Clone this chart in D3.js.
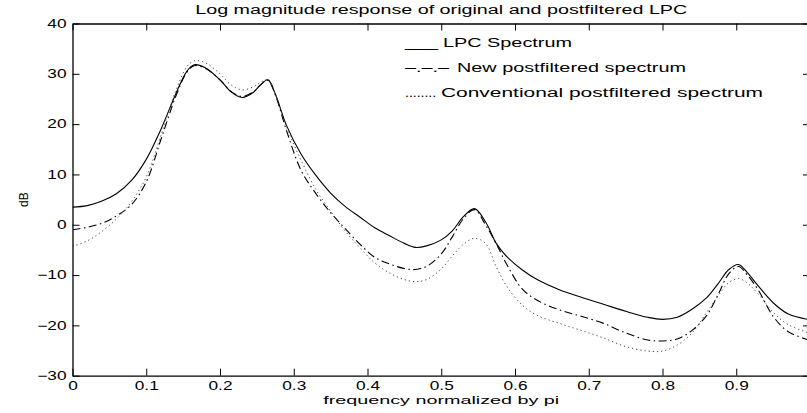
<!DOCTYPE html>
<html>
<head>
<meta charset="utf-8">
<script src="https://cdn.jsdelivr.net/npm/d3@7"></script>
<style>
  body { margin: 0; background: #fff; }
  svg { display: block; }
  text { font-family: "Liberation Sans", Arial, sans-serif; fill: #000; }
</style>
</head>
<body>
<div id="chart"></div>
<script>
// frequency grid (normalized by pi)
const freq = [0, 0.02, 0.04, 0.06, 0.08, 0.10, 0.12, 0.14, 0.155, 0.165, 0.18, 0.20, 0.215, 0.23, 0.245, 0.255, 0.265, 0.275,
  0.29, 0.31, 0.33, 0.35, 0.37, 0.39, 0.41, 0.43, 0.45, 0.465, 0.48, 0.50, 0.515, 0.53, 0.545, 0.56, 0.575, 0.59, 0.61,
  0.63, 0.66, 0.69, 0.72, 0.75, 0.78, 0.80, 0.82, 0.84, 0.86, 0.875, 0.89, 0.903, 0.915, 0.93, 0.95, 0.97, 1.0];

const lpcSpectrum = [3.5, 3.8, 4.7, 6.2, 8.8, 13.0, 19.0, 26.0, 30.5, 31.8, 31.2, 28.8, 26.4, 25.3, 26.3, 27.8, 28.8, 26.0,
  19.8, 14.0, 9.8, 6.3, 3.6, 1.5, -0.6, -2.2, -3.7, -4.5, -4.2, -3.0, -1.2, 1.6, 3.2, 0.6, -3.8, -6.5, -9.0,
  -10.9, -12.9, -14.4, -15.8, -17.2, -18.4, -18.8, -18.4, -16.8, -14.5, -11.8, -8.9, -7.9, -9.5, -12.2, -15.5, -17.7, -18.9];

const newPostfiltered = [-1.0, -0.5, 0.3, 1.8, 4.0, 8.5, 17.0, 25.5, 30.3, 31.6, 31.1, 28.8, 26.5, 25.5, 26.4, 27.8, 28.7, 25.8,
  18.8, 10.8, 6.2, 2.4, -0.8, -3.9, -6.5, -7.8, -8.7, -8.9, -8.3, -5.8, -2.4, 1.2, 3.0, 0.0, -3.9, -8.2, -12.8,
  -15.0, -16.9, -18.2, -19.6, -21.5, -22.9, -23.1, -22.7, -21.0, -18.0, -14.0, -9.7, -8.3, -10.0, -13.0, -18.2, -21.2, -23.0];

const convPostfiltered = [-4.3, -3.2, -1.3, 1.2, 4.6, 9.5, 17.8, 26.6, 31.4, 32.6, 32.2, 30.0, 27.8, 26.8, 27.4, 28.3, 28.9, 26.0,
  19.5, 12.8, 7.0, 2.7, -1.3, -4.6, -7.6, -9.6, -10.9, -11.3, -10.9, -8.8, -6.2, -3.9, -2.7, -3.7, -8.5, -12.5, -16.0,
  -18.0, -19.6, -21.0, -22.5, -24.2, -25.1, -25.1, -23.9, -21.5, -17.4, -14.2, -11.5, -10.7, -11.6, -13.8, -17.4, -19.8, -21.6];

const xTicks = [0, 0.1, 0.2, 0.3, 0.4, 0.5, 0.6, 0.7, 0.8, 0.9, 1];
const yTicks = [-30, -20, -10, 0, 10, 20, 30, 40];

const legendLabels = ['LPC Spectrum', 'New postfiltered spectrum', 'Conventional postfiltered spectrum'];
const legendMarks = ['____', '\u2013.\u2013.\u2013', '........'];

const w = 807;
const h = 413;
const margin = { top: 23.5, right: -3, bottom: 37.3, left: 72.5 };
const sx = 1.44; // tick text is drawn wide in the original

const svg = d3.select('#chart')
  .append('svg')
  .attr('width', w)
  .attr('height', h)
  .style('overflow', 'hidden');

const xScale = d3.scaleLinear()
  .domain([0, 1])
  .range([margin.left, w - margin.right]);

const yScale = d3.scaleLinear()
  .domain([-30, 40])
  .range([h - margin.bottom, margin.top]);

const series = [
  { values: lpcSpectrum, dash: null, color: '#000', width: 1.1 },
  { values: newPostfiltered, dash: '8,3.5,1.5,3.5', color: '#000', width: 1.1 },
  { values: convPostfiltered, dash: '1.2,3', color: '#444', width: 1 }
];

const line = d3.line()
  .x((d, i) => xScale(freq[i]))
  .y(d => yScale(d))
  .curve(d3.curveCatmullRom.alpha(0.5));

svg.append('defs').append('clipPath').attr('id', 'clip')
  .append('rect')
  .attr('x', xScale(0)).attr('y', yScale(40))
  .attr('width', xScale(1) - xScale(0)).attr('height', yScale(-30) - yScale(40));

svg.append('g').attr('clip-path', 'url(#clip)')
  .selectAll('path')
  .data(series)
  .enter()
  .append('path')
  .attr('d', d => line(d.values))
  .attr('fill', 'none')
  .attr('stroke', d => d.color)
  .attr('stroke-width', d => d.width)
  .attr('stroke-dasharray', d => d.dash);

// axes, box with inward ticks
const fmt = d => d === 1 ? '' : d3.format('~g')(d);
const xAxis = d3.axisBottom(xScale).tickValues(xTicks).tickFormat(fmt).tickSizeInner(-7).tickSizeOuter(0).tickPadding(6);
const yAxis = d3.axisLeft(yScale).tickValues(yTicks).tickSizeInner(-7).tickSizeOuter(0).tickPadding(6);
const xTop = d3.axisTop(xScale).tickValues(xTicks).tickFormat('').tickSizeInner(-7).tickSizeOuter(0);
const yRight = d3.axisRight(yScale).tickValues(yTicks).tickFormat('').tickSizeInner(-7).tickSizeOuter(0);

const gx = svg.append('g')
  .attr('transform', 'translate(0,' + yScale(-30) + ')')
  .call(xAxis);
const gy = svg.append('g')
  .attr('transform', 'translate(' + xScale(0) + ',0)')
  .call(yAxis);
svg.append('g')
  .attr('transform', 'translate(0,' + yScale(40) + ')')
  .call(xTop);
svg.append('g')
  .attr('transform', 'translate(' + xScale(1) + ',0)')
  .call(yRight);

svg.selectAll('.domain').attr('stroke', '#000').attr('stroke-width', 1.3);
svg.selectAll('.tick line').attr('stroke', '#000').attr('stroke-width', 1);

gx.selectAll('text')
  .attr('font-size', 12)
  .attr('font-family', null)
  .attr('transform', 'scale(' + sx + ',1)');
gy.selectAll('text')
  .attr('font-size', 12)
  .attr('font-family', null)
  .attr('x', -6 / sx)
  .attr('transform', 'scale(' + sx + ',1)');

// text squeezed/stretched to the widths measured on the original
function label(x, y, txt, anchor, len, size) {
  return svg.append('text')
    .attr('x', x).attr('y', y)
    .attr('text-anchor', anchor)
    .attr('font-size', size || 12)
    .attr('textLength', len)
    .attr('lengthAdjust', 'spacingAndGlyphs')
    .text(txt);
}

const cx = (xScale(0) + xScale(1)) / 2;
label(cx, 13.5, 'Log magnitude response of original and postfiltered LPC', 'middle', 492);
label(cx, 403.5, 'frequency normalized by pi', 'middle', 236, 11);

svg.append('text')
  .attr('transform', 'translate(28,' + yScale(5) + ') rotate(-90)')
  .attr('text-anchor', 'middle')
  .attr('font-size', 12)
  .text('dB');

const legendY = [47, 72, 97];
const legendX = [443, 457, 441];
const legendLen = [129, 229, 322];
const markLen = [33, 44, 31];
legendLabels.forEach((t, i) => {
  label(405, legendY[i], legendMarks[i], 'start', markLen[i]);
  label(legendX[i], legendY[i], t, 'start', legendLen[i]);
});
</script>
</body>
</html>
